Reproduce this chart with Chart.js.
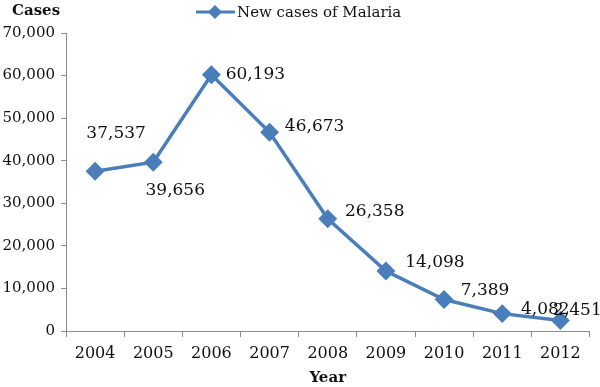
<!DOCTYPE html>
<html>
<head>
<meta charset="utf-8">
<script src="https://cdn.jsdelivr.net/npm/chart.js@4"></script>
<style>
  html, body { margin: 0; padding: 0; background: #fff; }
  #wrap { width: 600px; height: 387px; }
</style>
</head>
<body>
<div id="wrap"><canvas id="malaria" width="600" height="387"></canvas></div>
<script>
// years on the x axis
const years = ['2004', '2005', '2006', '2007', '2008', '2009', '2010', '2011', '2012'];

// new cases of malaria per year
const cases = [37537, 39656, 60193, 46673, 26358, 14098, 7389, 4082, 2451];

// y axis ticks
const yTicks = [0, 10000, 20000, 30000, 40000, 50000, 60000, 70000];

const seriesName = 'New cases of Malaria';
const blue = '#4a7ebb';
const axisGray = '#8c8c8c';
const serif = '"DejaVu Serif", "Liberation Serif", serif';

// where each value label sits relative to its point (dx, dy)
const labelOffsets = [
    [21, -38], [22, 28], [44, 0], [45, -6], [47, -7],
    [49, -8], [41, -9], [43, -4], [17, -10],
];

const fmt = (v) => v.toLocaleString('en-US');

// value labels + "Cases" title + legend
const decorations = {
    id: 'decorations',
    afterDatasetsDraw(chart) {
        const c = chart.ctx;
        const meta = chart.getDatasetMeta(0);
        c.save();
        c.fillStyle = '#111';
        c.font = '17px ' + serif;
        c.textAlign = 'center';
        c.textBaseline = 'middle';
        meta.data.forEach((pt, i) => {
            const [dx, dy] = labelOffsets[i];
            c.fillText(fmt(cases[i]), pt.x + dx, pt.y + dy);
        });

        // "Cases" above the y axis
        c.font = 'bold 15px ' + serif;
        c.textAlign = 'left';
        c.fillText('Cases', 12, 11);

        // legend: line with a diamond, then the name
        c.strokeStyle = blue;
        c.lineWidth = 3;
        c.beginPath();
        c.moveTo(196, 12);
        c.lineTo(235, 12);
        c.stroke();
        c.fillStyle = blue;
        c.beginPath();
        c.moveTo(215, 5); c.lineTo(222, 12); c.lineTo(215, 19); c.lineTo(208, 12);
        c.closePath();
        c.fill();
        c.fillStyle = '#111';
        c.font = '15px ' + serif;
        c.fillText(seriesName, 237, 13);
        c.restore();
    },
};

new Chart(document.getElementById('malaria'), {
    type: 'line',
    data: {
        labels: years,
        datasets: [{
            label: seriesName,
            data: cases,
            borderColor: blue,
            backgroundColor: blue,
            borderWidth: 3.5,
            tension: 0,
            pointStyle: 'rectRot',
            pointRadius: 7,
            pointHoverRadius: 7,
        }],
    },
    options: {
        responsive: false,
        animation: false,
        layout: { padding: { top: 33, right: 10, left: 0, bottom: 0 } },
        plugins: {
            legend: { display: false },
            tooltip: { enabled: false },
        },
        scales: {
            x: {
                offset: true,
                grid: { offset: true, drawOnChartArea: false, tickLength: 6, color: axisGray },
                border: { color: axisGray, width: 1 },
                ticks: { color: '#111', padding: 7, font: { family: serif, size: 16 } },
                title: {
                    display: true, text: 'Year', color: '#111',
                    font: { family: serif, size: 15, weight: 'bold' },
                    padding: { top: 5, bottom: 0 },
                },
                afterFit: (s) => { s.height = 56; },
            },
            y: {
                min: 0,
                max: 70000,
                afterBuildTicks: (s) => { s.ticks = yTicks.map((v) => ({ value: v })); },
                grid: { drawOnChartArea: false, tickLength: 5, color: axisGray },
                border: { color: axisGray, width: 1 },
                ticks: {
                    color: '#111', padding: 6,
                    font: { family: serif, size: 15 },
                    callback: (v) => fmt(v),
                },
                afterFit: (s) => { s.width = 66; },
            },
        },
    },
    plugins: [decorations],
});
</script>
</body>
</html>
